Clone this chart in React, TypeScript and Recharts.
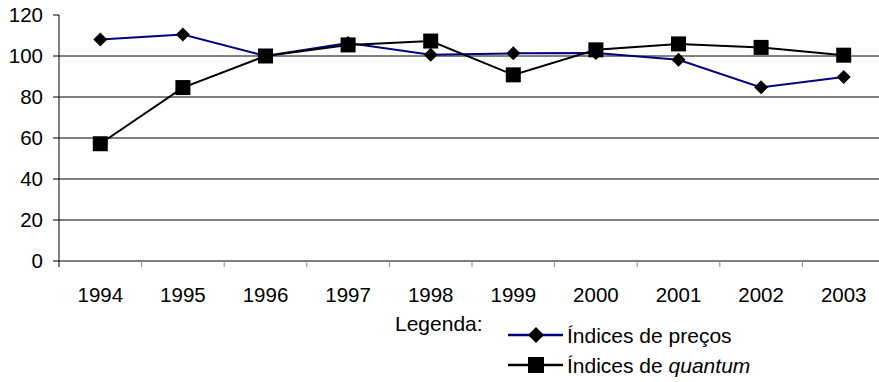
import React from 'react';
import { LineChart, Line, XAxis, YAxis, CartesianGrid } from 'recharts';

const years = ['1994', '1995', '1996', '1997', '1998', '1999', '2000', '2001', '2002', '2003'];
const precos = [108, 110.5, 100, 106.3, 100.6, 101.3, 101.5, 98.2, 84.7, 89.8];
const quantum = [57.2, 84.6, 100, 105.4, 107.3, 90.8, 103, 105.9, 104.2, 100.4];
const yTicks = [0, 20, 40, 60, 80, 100, 120];
const gridValues = [20, 40, 60, 80, 100];
const legendTitle = 'Legenda:';
const seriesNames = ['Índices de preços', 'Índices de '];
const quantumWord = 'quantum';

const data = years.map((y, i) => ({ year: y, precos: precos[i], quantum: quantum[i] }));

const W = 879;
const H = 382;
const Y_W = 59;
const MARGIN = { top: 15, right: -6, left: 0, bottom: 71 };
const BAND = (W - Y_W - MARGIN.right) / years.length;
const FONT = '"Liberation Sans", Arial, sans-serif';
const FS = 20.5;
const LFS = 21;
const TICK_SIZE = 6;
const TICK_MARGIN = 20;

const XTick = (props: any) => {
  const { x, y, payload, index } = props;
  const axisY = y - TICK_SIZE - TICK_MARGIN;
  return (
    <g>
      {index === 0 && (
        <line x1={x - BAND / 2} x2={x - BAND / 2} y1={axisY} y2={axisY + TICK_SIZE} stroke="#000" />
      )}
      <line x1={x + BAND / 2} x2={x + BAND / 2} y1={axisY} y2={axisY + TICK_SIZE} stroke="#888" />
      <text x={x} y={y} dy="0.71em" textAnchor="middle" fill="#000" fontSize={FS} fontFamily={FONT}>
        {payload.value}
      </text>
    </g>
  );
};

const Diamond = (props: any) => {
  const { cx, cy } = props;
  if (cx == null || cy == null) return null;
  const r = 7;
  return <polygon points={`${cx},${cy - r} ${cx + r},${cy} ${cx},${cy + r} ${cx - r},${cy}`} fill="#000" />;
};

const Square = (props: any) => {
  const { cx, cy } = props;
  if (cx == null || cy == null) return null;
  const s = 15;
  return <rect x={cx - s / 2} y={cy - s / 2} width={s} height={s} fill="#000" />;
};

const LegendIcon = ({ kind, color }: { kind: 'diamond' | 'square'; color: string }) => (
  <svg width={55} height={18} style={{ display: 'block', marginRight: 4 }}>
    <line x1={0} x2={55} y1={9} y2={9} stroke={color} strokeWidth={2.5} />
    {kind === 'diamond' ? (
      <polygon points="28,1 36,9 28,17 20,9" fill="#000" />
    ) : (
      <rect x={20} y={1} width={16} height={16} fill="#000" />
    )}
  </svg>
);

const rowStyle: React.CSSProperties = {
  position: 'absolute',
  left: 508,
  display: 'flex',
  alignItems: 'center',
  height: LFS,
  fontSize: LFS,
  lineHeight: `${LFS}px`,
  color: '#000',
  whiteSpace: 'nowrap',
};

export default function App() {
  return (
    <div style={{ position: 'absolute', left: 0, top: 0, width: W, height: H, background: '#fff', fontFamily: FONT, overflow: 'hidden' }}>
      <LineChart width={W} height={H} data={data} margin={MARGIN}>
        <CartesianGrid vertical={false} stroke="#000" horizontalValues={gridValues} />
        <XAxis
          dataKey="year"
          padding={{ left: BAND / 2, right: BAND / 2 }}
          axisLine={{ stroke: '#000' }}
          tickLine={false}
          tickSize={TICK_SIZE}
          tickMargin={TICK_MARGIN}
          height={50}
          interval={0}
          tick={<XTick />}
        />
        <YAxis
          width={Y_W}
          domain={[0, 120]}
          ticks={yTicks}
          interval={0}
          axisLine={{ stroke: '#000' }}
          tickLine={{ stroke: '#000' }}
          tickSize={6}
          tickMargin={10}
          tick={{ fill: '#000', fontSize: FS, fontFamily: FONT }}
        />
        <Line
          dataKey="precos"
          stroke="#000080"
          strokeWidth={2}
          dot={<Diamond />}
          activeDot={false}
          isAnimationActive={false}
        />
        <Line
          dataKey="quantum"
          stroke="#000"
          strokeWidth={2}
          dot={<Square />}
          activeDot={false}
          isAnimationActive={false}
        />
      </LineChart>
      <div style={{ position: 'absolute', left: 395, top: 312.5, fontSize: LFS, lineHeight: `${LFS}px`, color: '#000' }}>
        {legendTitle}
      </div>
      <div style={{ ...rowStyle, top: 324.5 }}>
        <LegendIcon kind="diamond" color="#000080" />
        <span>{seriesNames[0]}</span>
      </div>
      <div style={{ ...rowStyle, top: 354.5 }}>
        <LegendIcon kind="square" color="#000" />
        <span>
          {seriesNames[1]}
          <i>{quantumWord}</i>
        </span>
      </div>
    </div>
  );
}
